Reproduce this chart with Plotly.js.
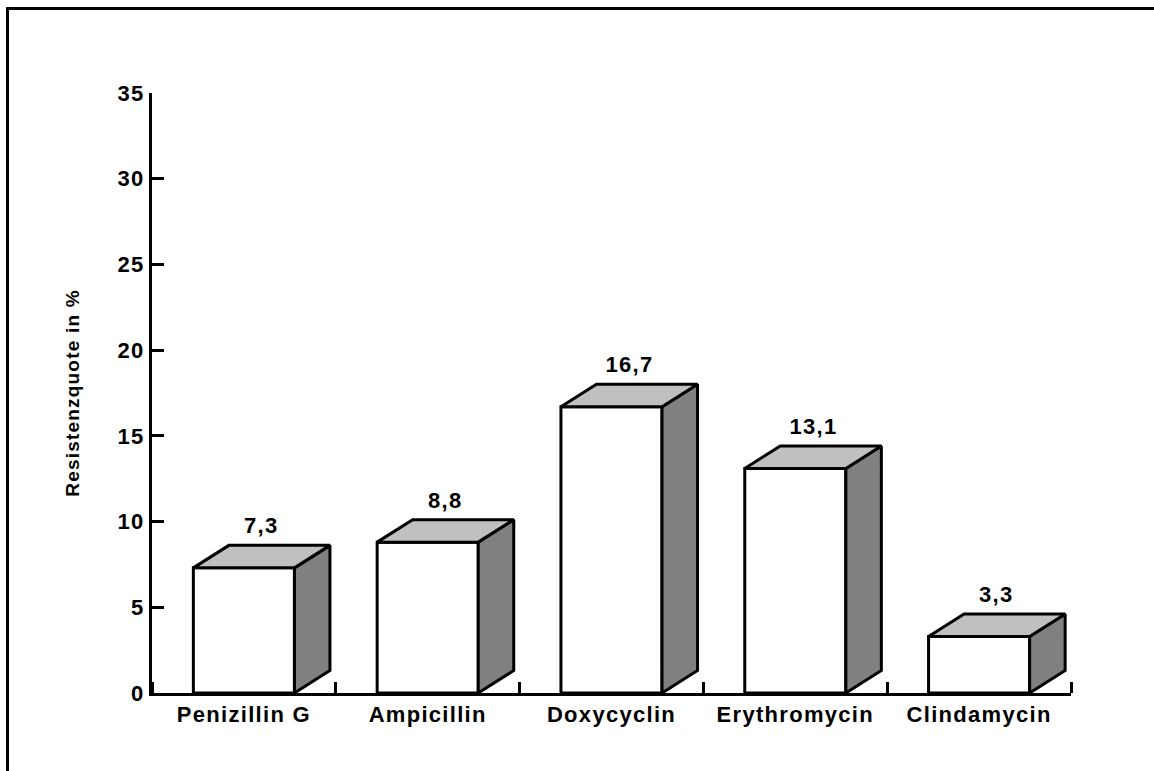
<!DOCTYPE html>
<html>
<head>
<meta charset="utf-8">
<script src="https://cdn.plot.ly/plotly-3.0.1.min.js"></script>
<style>
  html, body { margin: 0; padding: 0; background: #ffffff; }
  #wrap { position: relative; width: 1154px; height: 771px; overflow: hidden; }
  #chart { position: absolute; left: 0; top: 0; width: 1154px; height: 771px; }
  #frame {
    position: absolute; left: 6px; top: 7px; width: 1200px; height: 800px;
    border-left: 3px solid #000; border-top: 3px solid #000;
    pointer-events: none; z-index: 5;
  }
  #chart svg text { letter-spacing: 1.3px; }
  #chart svg text.ytitle { letter-spacing: 1.2px; }
</style>
</head>
<body>
<div id="wrap">
  <div id="chart"></div>
  <div id="frame"></div>
</div>
<script>
// Antibiotic resistance rates (%)
const categories = ['Penizillin G', 'Ampicillin', 'Doxycyclin', 'Erythromycin', 'Clindamycin'];
const values = [7.3, 8.8, 16.7, 13.1, 3.3];
const yTicks = [0, 5, 10, 15, 20, 25, 30, 35];

const W = 1154, H = 771;
const margin = { l: 152, r: 83, t: 93, b: 78 };
const xRange = [-0.5, categories.length - 0.5];
const yRange = [0, 35];

// pseudo-3D depth of each box, in screen pixels, converted to data units
const DEPTH_X_PX = 35.5, DEPTH_Y_PX = 22.5;
const plotW = W - margin.l - margin.r;
const plotH = H - margin.t - margin.b;
const dx = DEPTH_X_PX * (xRange[1] - xRange[0]) / plotW;
const dy = DEPTH_Y_PX * (yRange[1] - yRange[0]) / plotH;
const barW = 0.55;

const FONT = { family: 'Liberation Sans, Arial, sans-serif', size: 22, color: '#000', weight: 'bold' };
const xs = categories.map((_, i) => i);

const traces = [];
// front faces
traces.push({
  type: 'bar', x: xs, y: values, width: barW,
  marker: { color: '#ffffff', line: { color: '#000', width: 3 } },
  hoverinfo: 'skip', showlegend: false
});
// side and top faces
values.forEach((v, i) => {
  const xl = i - barW / 2, xr = i + barW / 2;
  traces.push({
    type: 'scatter', mode: 'lines', fill: 'toself', fillcolor: '#808080',
    x: [xr, xr + dx, xr + dx, xr, xr],
    y: [0, dy, v + dy, v, 0],
    line: { color: '#000', width: 3 },
    hoverinfo: 'skip', showlegend: false, cliponaxis: false
  });
  traces.push({
    type: 'scatter', mode: 'lines', fill: 'toself', fillcolor: '#c0c0c0',
    x: [xl, xr, xr + dx, xl + dx, xl],
    y: [v, v, v + dy, v + dy, v],
    line: { color: '#000', width: 3 },
    hoverinfo: 'skip', showlegend: false, cliponaxis: false
  });
});

const annotations = values.map((v, i) => ({
  x: i + dx / 2, y: v + dy, xref: 'x', yref: 'y',
  text: String(v).replace('.', ','),
  showarrow: false, yanchor: 'bottom', xanchor: 'center', yshift: 5,
  font: FONT
}));

const layout = {
  width: W, height: H, margin: margin,
  paper_bgcolor: 'rgba(0,0,0,0)', plot_bgcolor: 'rgba(0,0,0,0)',
  showlegend: false,
  font: FONT,
  xaxis: {
    range: xRange, tickmode: 'array', tickvals: xs, ticktext: categories,
    ticks: '', showgrid: false, zeroline: false,
    showline: true, linecolor: '#000', linewidth: 3,
    tickfont: FONT, fixedrange: true,
    minor: { tick0: 0.5, dtick: 1, ticks: 'inside', ticklen: 11, tickwidth: 3, tickcolor: '#000', showgrid: false }
  },
  yaxis: {
    range: yRange, tickmode: 'array', tickvals: yTicks,
    ticks: 'inside', ticklen: 12, tickwidth: 3, tickcolor: '#000',
    showgrid: false, zeroline: false,
    showline: true, linecolor: '#000', linewidth: 3,
    tickfont: FONT, fixedrange: true,
    title: { text: 'Resistenzquote in %', font: { family: FONT.family, size: 19, color: '#000', weight: 'bold' }, standoff: 36 }
  },
  annotations: annotations
};

Plotly.newPlot('chart', traces, layout, { displayModeBar: false, staticPlot: true });
</script>
</body>
</html>
